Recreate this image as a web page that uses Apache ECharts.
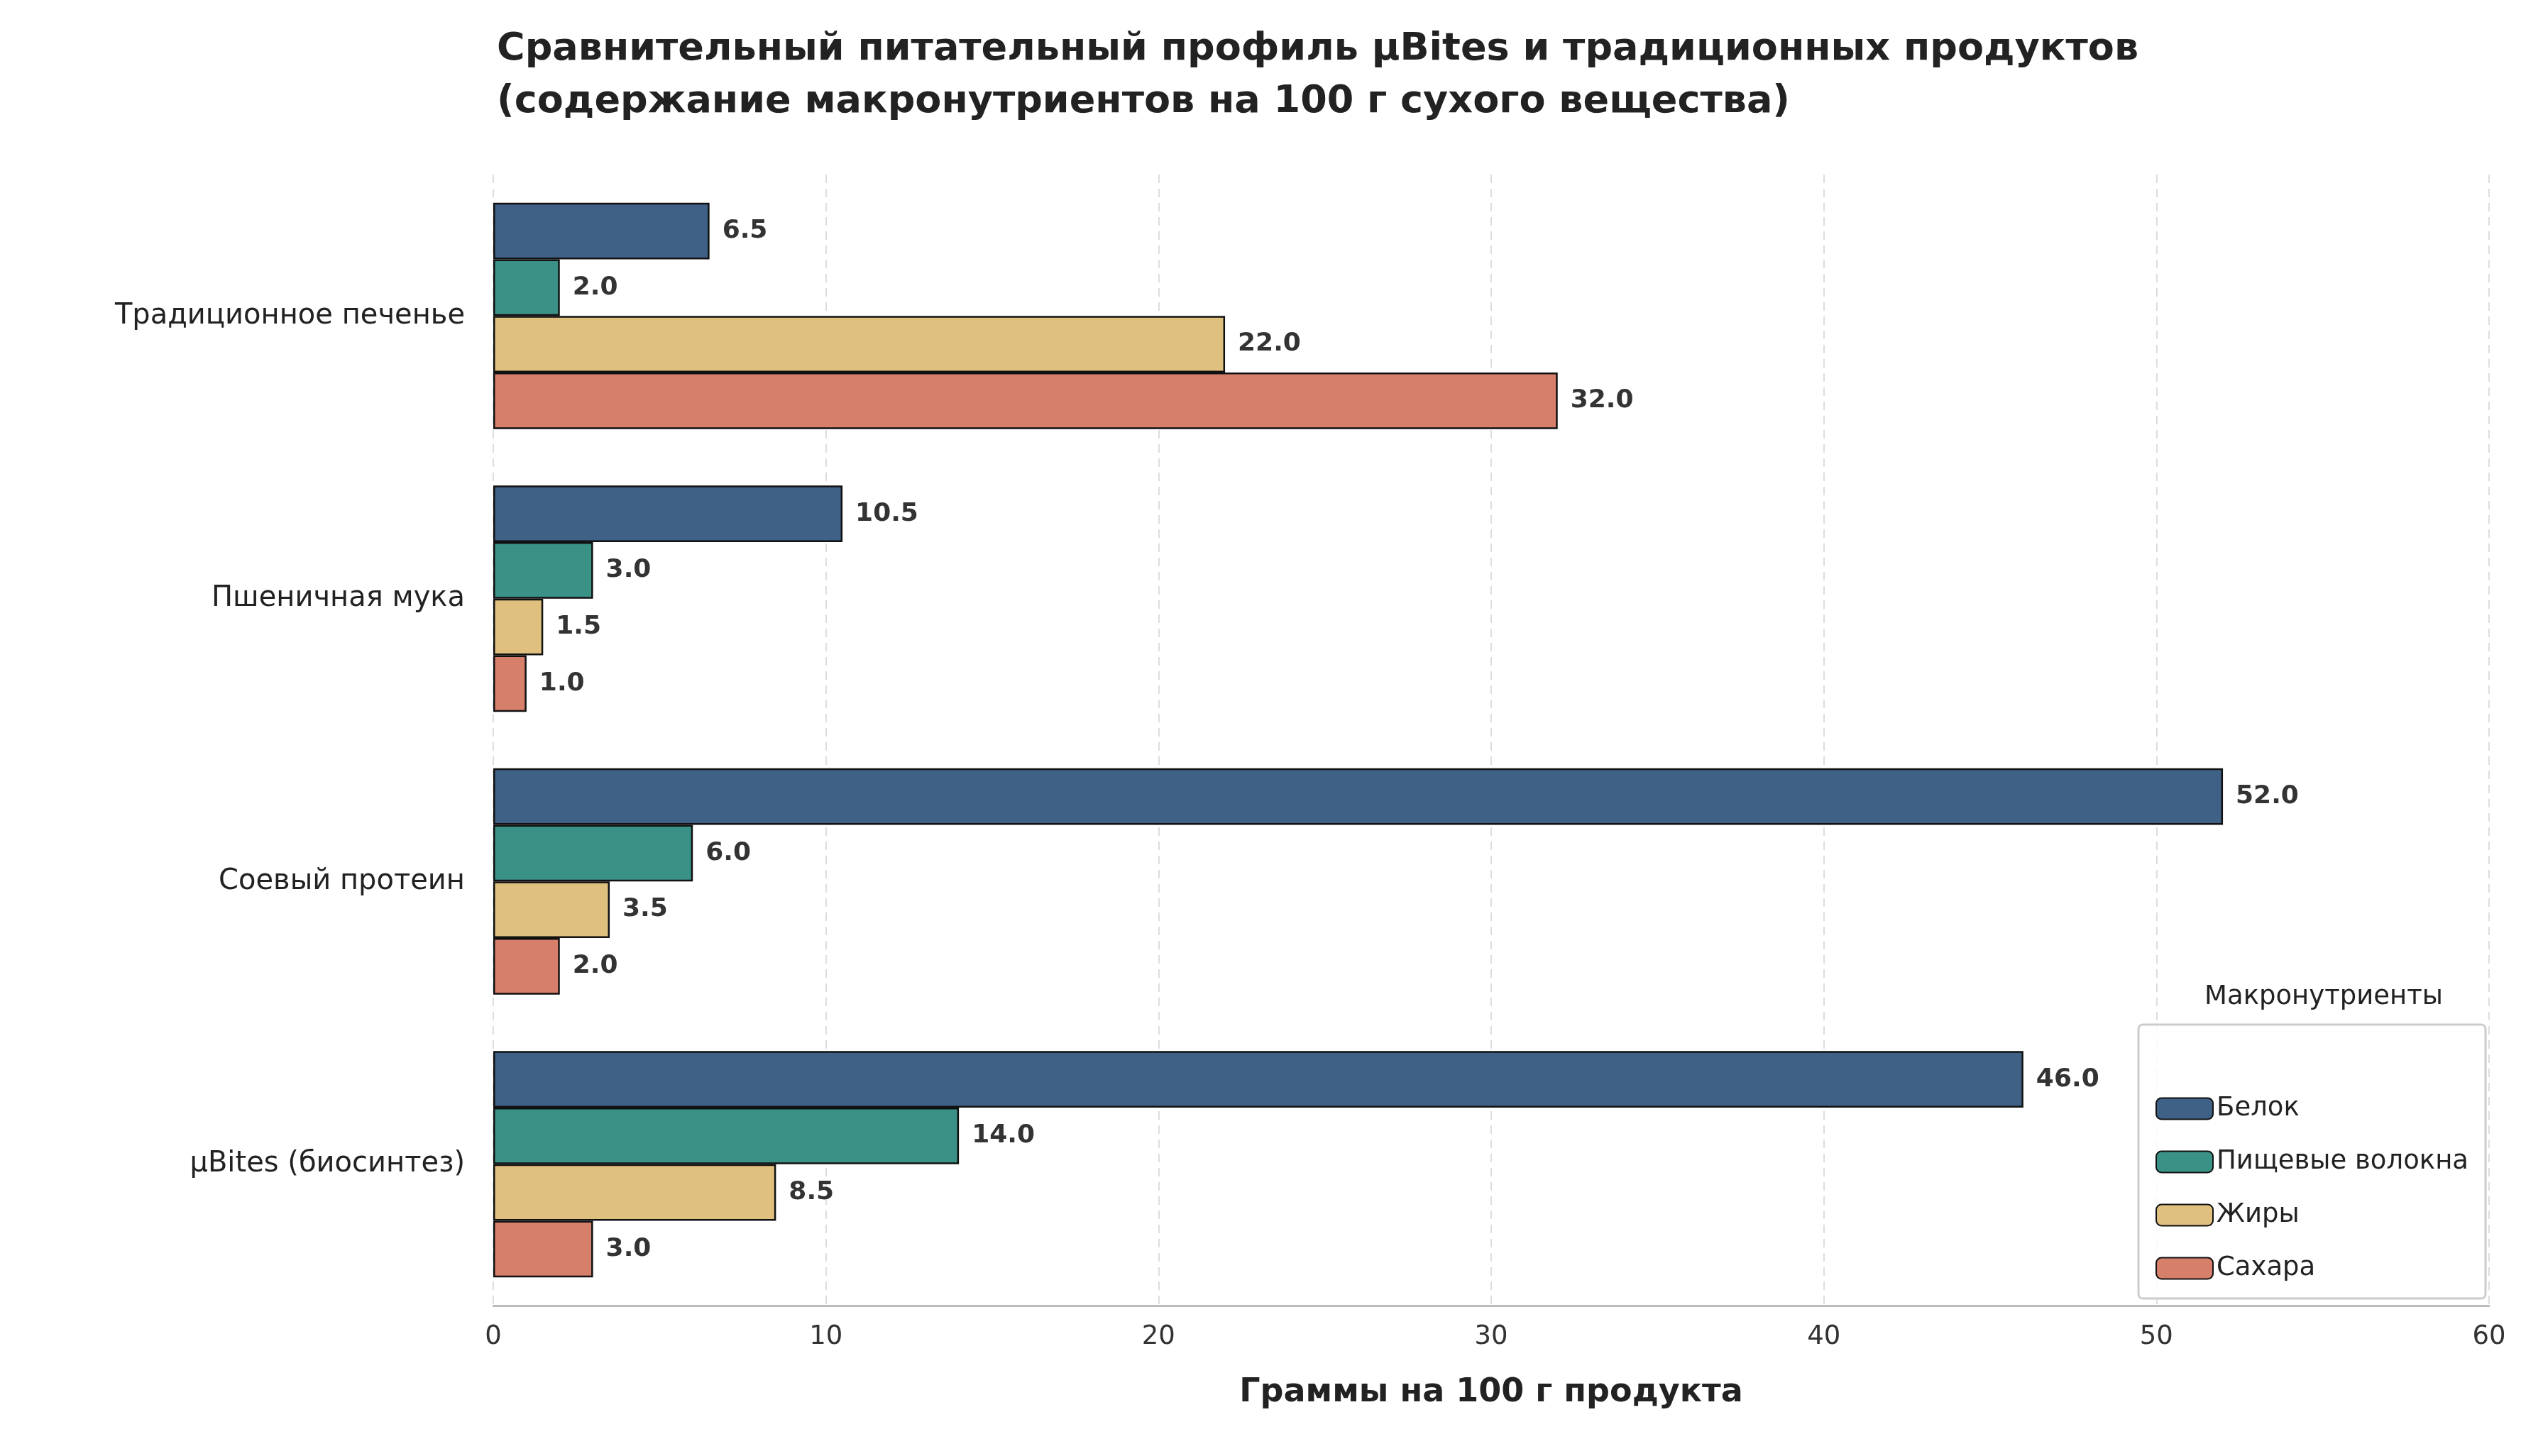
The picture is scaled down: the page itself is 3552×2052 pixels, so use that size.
<!DOCTYPE html>
<html><head><meta charset="utf-8">
<script src="https://cdn.jsdelivr.net/npm/echarts@6/dist/echarts.min.js"></script>
<style>html,body{margin:0;padding:0;background:#fff}#c{width:3552px;height:2052px}</style>
</head><body><div id="c"></div>
<script>
const categories = ['Традиционное печенье', 'Пшеничная мука', 'Соевый протеин', 'µBites (биосинтез)']
const seriesNames = ['Белок', 'Пищевые волокна', 'Жиры', 'Сахара']
const protein = [6.5, 10.5, 52.0, 46.0]
const fiber = [2.0, 3.0, 6.0, 14.0]
const fat = [22.0, 1.5, 3.5, 8.5]
const sugar = [32.0, 1.0, 2.0, 3.0]
const xTicks = [0, 10, 20, 30, 40, 50, 60]
const colors = ['#3f6185', '#3a9185', '#dfc07e', '#d67f6b']

const font = 'DejaVu Sans'
const chart = echarts.init(document.getElementById('c'))
const values = [protein, fiber, fat, sugar]

chart.setOption({
  animation: false,
  textStyle: { fontFamily: font },
  title: {
    text: 'Сравнительный питательный профиль µBites и традиционных продуктов\n(содержание макронутриентов на 100 г сухого вещества)',
    left: 695, top: 28,
    textStyle: { fontFamily: font, fontSize: 54, fontWeight: 'bold', color: '#222', lineHeight: 74 }
  },
  grid: { left: 695, right: 45, top: 246, bottom: 212 },
  xAxis: {
    type: 'value', min: 0, max: 60, interval: 10,
    name: 'Граммы на 100 г продукта', nameLocation: 'middle', nameGap: 100,
    nameTextStyle: { fontFamily: font, fontSize: 46, fontWeight: 'bold', color: '#222' },
    axisLine: { show: true, lineStyle: { color: '#bbb', width: 3 } },
    axisTick: { show: false },
    axisLabel: { fontSize: 37, color: '#333', margin: 26, formatter: v => xTicks.includes(v) ? String(v) : '' },
    splitLine: { show: true, lineStyle: { type: [12, 8], color: '#ddd', width: 2 } }
  },
  yAxis: {
    type: 'category', data: categories, inverse: true,
    axisLine: { show: false }, axisTick: { show: false },
    axisLabel: { fontSize: 40, color: '#222', margin: 40 }
  },
  legend: {
    orient: 'vertical', right: 50, bottom: 222,
    data: seriesNames,
    itemWidth: 80, itemHeight: 30, itemGap: 38,
    padding: [100, 24, 24, 24],
    borderColor: '#ccc', borderWidth: 3, borderRadius: 6,
    backgroundColor: 'rgba(255,255,255,0.85)',
    textStyle: { fontSize: 37, color: '#222' }
  },
  graphic: [{
    type: 'text', right: 110, bottom: 628, z: 100,
    style: { text: 'Макронутриенты', fontFamily: font, fontSize: 37, fill: '#222' }
  }],
  series: seriesNames.map((n, i) => ({
    name: n, type: 'bar', data: values[i],
    barGap: '0%', barCategoryGap: '20%',
    itemStyle: { color: colors[i], borderColor: '#111', borderWidth: 2.5 },
    label: {
      show: true, position: 'right', distance: 18,
      formatter: p => p.value.toFixed(1),
      fontSize: 36, fontWeight: 'bold', color: '#333'
    }
  }))
})
</script></body></html>
